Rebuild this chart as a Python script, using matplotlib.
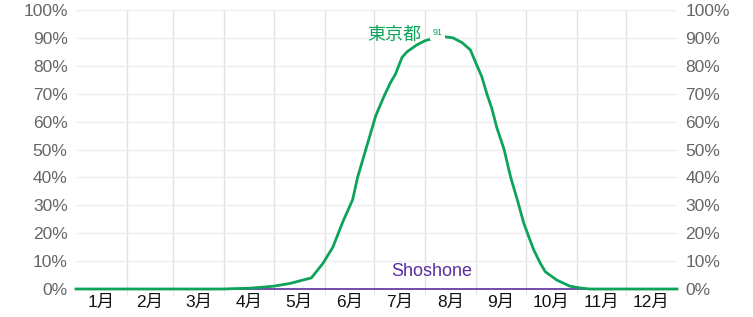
import numpy as np
import matplotlib
matplotlib.use("Agg")
import matplotlib.pyplot as plt
from matplotlib.ticker import FixedLocator

plt.rcParams['font.family'] = ['Liberation Sans', 'Noto Sans CJK JP', 'DejaVu Sans']

# ---------------------------------------------------------------------------
# data (day of year -> percent)
# ---------------------------------------------------------------------------
months = ["1月", "2月", "3月", "4月", "5月", "6月",
          "7月", "8月", "9月", "10月", "11月", "12月"]
month_days = [31, 28, 31, 30, 31, 30, 31, 31, 30, 31, 30, 31]

tokyo_day = [0, 89, 106, 120, 130, 143, 150, 156, 162, 168, 171, 176,
             182, 187, 191, 194, 198, 201, 207, 212, 215, 219.5,
             224, 229, 234.5, 239.5, 242.5, 246.5, 249.5, 252.5, 255.5,
             260, 264, 268, 272, 275, 278, 282, 285, 292, 300, 306, 312, 365]
tokyo_pct = [0, 0, 0.3, 1.0, 2.0, 4.0, 9.2, 15, 24, 32, 40, 50,
             62, 69, 74, 77, 83, 85, 87.5, 89, 89.5, 91,
             90.4, 90, 88.3, 85.7, 81.5, 76, 70, 64.8, 58,
             50, 40, 32, 23.5, 18.7, 14, 9.2, 6.2, 3.2, 1.0, 0.4, 0, 0]
tokyo_peak = 91

shoshone_day = [0, 365]
shoshone_pct = [0, 0]

GREEN = "#0ea35a"
PURPLE = "#5b2d9e"

# ---------------------------------------------------------------------------
# plot
# ---------------------------------------------------------------------------
fig = plt.figure(figsize=(7.53, 3.17), dpi=100)
ax = fig.add_axes([76 / 753, 1 - 289 / 317, 601 / 753, 279 / 317])

bounds = np.concatenate([[0], np.cumsum(month_days)])
mids = (bounds[:-1] + bounds[1:]) / 2

ax.set_xlim(0, 365)
ax.set_ylim(0, 100)

for b in bounds[1:-1]:
    ax.axvline(b, color="#e2e2e2", lw=1, zorder=0)
for v in range(10, 101, 10):
    ax.axhline(v, color="#eeeeee", lw=1, zorder=0)

ax.plot(shoshone_day, shoshone_pct, color=PURPLE, lw=1.2, zorder=2, clip_on=False)
ax.plot(tokyo_day, tokyo_pct, color=GREEN, lw=2, zorder=3, clip_on=False)

ax.text(209.5, 91, "東京都", color=GREEN, fontsize=13, ha="right", va="center")
ax.text(219.5, 91.8, str(tokyo_peak), color=GREEN, fontsize=6.5, ha="center",
        va="center", zorder=4,
        bbox=dict(facecolor="white", edgecolor="none", pad=2))
ax.text(216, 6.3, "Shoshone", color=PURPLE, fontsize=13, ha="center", va="center")

# x axis: labels mid-month, small ticks at month boundaries
ax.xaxis.set_major_locator(FixedLocator(mids))
ax.set_xticklabels(months, fontsize=12.5, color="#111111")
ax.xaxis.set_minor_locator(FixedLocator(bounds[1:-1]))
ax.tick_params(axis="x", which="major", length=0, pad=4)
ax.tick_params(axis="x", which="minor", length=4, color="#e2e2e2")

yt = np.arange(0, 101, 10)
ax.set_yticks(yt)
ax.set_yticklabels([f"{v}%" for v in yt], fontsize=12.5, color="#666666")
ax.tick_params(axis="y", length=0, pad=6, labelleft=True, labelright=True)

for s in ax.spines.values():
    s.set_visible(False)

fig.savefig("out.png", dpi=100, facecolor="white")
